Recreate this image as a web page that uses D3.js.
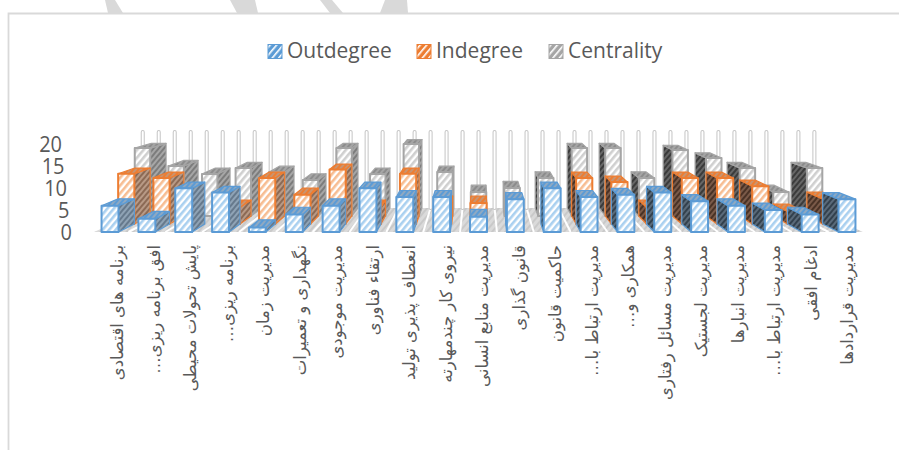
<!DOCTYPE html>
<html>
<head>
<meta charset="utf-8">
<style>
  html, body { margin: 0; padding: 0; background: #fff; }
  svg { display: block; }
  .legend text { font-family: "Open Sans", sans-serif; font-size: 21px; fill: #595959; }
  .ytick { font-family: "Open Sans", sans-serif; font-size: 20px; fill: #595959; }
  .cat { font-family: "DejaVu Sans", sans-serif; font-size: 16.5px; fill: #595959; direction: rtl; }
</style>
<script src="https://cdn.jsdelivr.net/npm/d3@7"></script>
</head>
<body>
<svg id="chart" width="899" height="450"></svg>
<script>
const categories = [
    "برنامه های اقتصادی", "افق برنامه ریزی…", "پایش تحولات محیطی", "برنامه ریزی…",
    "مدیریت زمان", "نگهداری و تعمیرات", "مدیریت موجودی", "ارتقاء فناوری",
    "انعطاف پذیری تولید", "نیروی کار چندمهارته", "مدیریت منابع انسانی", "قانون گذاری",
    "حاکمیت قانون", "مدیریت ارتباط با…", "همکاری و…", "مدیریت مسائل رفتاری",
    "مدیریت لجستیک", "مدیریت انبارها", "مدیریت ارتباط با…", "ادغام افقی", "مدیریت قراردادها"
];
const outdegree = [6, 3, 10, 9, 1, 4, 6, 10, 8, 8, 3.5, 7.5, 10, 8, 8.5, 9, 7, 6, 5, 4, 7.5];
const indegree = [12, 11, 0, 4, 11, 7, 13, 4, 12, 5, 5, 0, 0, 11, 10, 4, 11, 11, 9, 3, 6];
const centrality = [17, 12.5, 10.5, 12, 11, 9, 17, 10.5, 18, 11, 6, 7, 9.5, 17, 17, 9.5, 16.5, 14.5, 12, 6, 12];
const yTicks = [0, 5, 10, 15, 20];
const seriesNames = ["Outdegree", "Indegree", "Centrality"];
const seriesColors = ["#5b9bd5", "#ed7d31", "#a5a5a5"];

const svg = d3.select("#chart");
const VANISH = {x: 479, y: 50};
const BAR_WIDTH = 0.46;

// front plane scales, depth is turned into a shrink factor towards the vanishing point
const xScale = d3.scaleBand().domain(d3.range(categories.length)).range([91.6, 865.4]);
const yScale = d3.scaleLinear().domain([0, 20]).range([232, 144.4]);
const depth = d3.scaleLinear().domain([0, 3]).range([1, 0.868]);
const labelX = d3.scalePoint().domain(d3.range(categories.length)).range([117, 847]);
const tickRight = d3.scaleLinear().domain([0, 20]).range([72, 62]);

function project(x, value, z) {
    const s = depth(z);
    return [VANISH.x + (x - VANISH.x) * s, VANISH.y + (yScale(value) - VANISH.y) * s];
}

function hatch(id, bg, stripe, size, stripeWidth) {
    const p = defs.append("pattern")
        .attr("id", id)
        .attr("patternUnits", "userSpaceOnUse")
        .attr("width", size)
        .attr("height", size)
        .attr("patternTransform", "rotate(40)");
    p.append("rect").attr("width", size).attr("height", size).attr("fill", bg);
    p.append("rect").attr("width", stripeWidth).attr("height", size).attr("fill", stripe);
}

const defs = svg.append("defs");
const frontStripe = ["#a9d0f0", "#f7bd92", "#cfcfcf"];
const leftSide = [["#8fa3b5", "#66798c"], ["#b89a86", "#8c6a55"], ["#a6a6a6", "#7c7c7c"]];
const rightSide = [["#5a6b7a", "#33414d"], ["#7a5a48", "#4a3225"], ["#666", "#3a3a3a"]];
const topStripe = ["#8fa9c2", "#c9946f", "#8c8c8c"];
seriesNames.forEach((name, k) => {
    hatch(`front${k}`, "#fff", frontStripe[k], 5, 2.6);
    hatch(`left${k}`, leftSide[k][0], leftSide[k][1], 4, 2);
    hatch(`right${k}`, rightSide[k][0], rightSide[k][1], 4, 2);
    hatch(`top${k}`, seriesColors[k], topStripe[k], 4, 2);
    hatch(`legend${k}`, seriesColors[k], "#fff", 5, 1.6);
});
hatch("floor", "#dadada", "#c9c9c9", 5, 2);
defs.append("filter").attr("id", "soft")
    .append("feGaussianBlur").attr("stdDeviation", 0.45);

// page watermark behind the chart and the chart frame
const watermark = svg.append("g").attr("fill", "#d9d9d9");
[[[105, 0], [115, 0], [123, 13], [108, 13]],
 [[230, 0], [255, 0], [258, 13], [237, 13]],
 [[320, 0], [332, 0], [343, 13], [330, 13]],
 [[385, 0], [407, 0], [408, 13], [380, 13]]].forEach(pts => {
    watermark.append("polygon").attr("points", pts.join(" "));
});

svg.append("path")
    .attr("d", "M899,13.5H8.5V450")
    .attr("fill", "none")
    .attr("stroke", "#d9d9d9")
    .attr("stroke-width", 1.8);

// legend
const legendX = [268, 417, 549];
const legend = svg.append("g").attr("class", "legend");
seriesNames.forEach((name, k) => {
    legend.append("rect")
        .attr("x", legendX[k]).attr("y", 44.5)
        .attr("width", 14).attr("height", 14)
        .attr("fill", `url(#legend${k})`)
        .attr("stroke", seriesColors[k]);
    legend.append("text")
        .attr("x", legendX[k] + 19).attr("y", 58)
        .text(name);
});

// y tick labels, a bit taller than the font draws them
svg.selectAll(".ytick").data(yTicks).join("text")
    .attr("class", "ytick")
    .attr("text-anchor", "end")
    .attr("transform", d => `translate(${tickRight(d)}, ${yScale(d) + 8}) scale(1, 1.08)`)
    .text(d => d);

// floor
const leftEdge = xScale.range()[0];
const rightEdge = xScale.range()[1];
svg.append("polygon")
    .attr("points", [project(leftEdge, 0, 0), project(rightEdge, 0, 0), project(rightEdge, 0, 3), project(leftEdge, 0, 3)].join(" "))
    .attr("fill", "url(#floor)");

// floor depth lines and wall tubes, one at each band edge and band centre
const halfStep = xScale.step() / 2;
const wallX = d3.range(categories.length * 2 + 1).map(i => leftEdge + i * halfStep);
const wall = svg.append("g");
wallX.forEach((x, i) => {
    if (i % 2 === 0) {
        const a = project(x, 0, 0);
        const b = project(x, 0, 3);
        wall.append("line")
            .attr("x1", a[0]).attr("y1", a[1]).attr("x2", b[0]).attr("y2", b[1])
            .attr("stroke", "#fff").attr("stroke-width", 2);
    }
    const bottom = project(x, 0, 3);
    const top = project(x, 20, 3);
    wall.append("line")
        .attr("x1", bottom[0]).attr("y1", bottom[1]).attr("x2", top[0]).attr("y2", top[1])
        .attr("stroke", "#c4c4c4").attr("stroke-width", 4).attr("stroke-linecap", "round");
    wall.append("line")
        .attr("x1", bottom[0]).attr("y1", bottom[1]).attr("x2", top[0]).attr("y2", top[1])
        .attr("stroke", "#fff").attr("stroke-width", 2).attr("stroke-linecap", "round");
});

// columns: back row first, outer columns before the ones near the vanishing point
function drawBox(g, i, value, k, row) {
    if (value <= 0) return;
    const centre = xScale(i) + xScale.bandwidth() / 2;
    const half = xScale.bandwidth() * BAR_WIDTH / 2;
    const l = centre - half;
    const r = centre + half;
    const z0 = row;
    const z1 = row + 1;
    const leftOfCentre = centre < VANISH.x;
    const sideX = leftOfCentre ? r : l;
    const sideFill = leftOfCentre ? `url(#left${k})` : `url(#right${k})`;
    const color = seriesColors[k];
    const poly = (pts, fill, width) => g.append("polygon")
        .attr("points", pts.join(" "))
        .attr("fill", fill)
        .attr("stroke", color)
        .attr("stroke-width", width)
        .attr("stroke-linejoin", "round");

    poly([project(sideX, 0, z0), project(sideX, value, z0), project(sideX, value, z1), project(sideX, 0, z1)], sideFill, 1.2);
    poly([project(l, value, z0), project(r, value, z0), project(r, value, z1), project(l, value, z1)], `url(#top${k})`, 1.2);
    poly([project(l, 0, z0), project(r, 0, z0), project(r, value, z0), project(l, value, z0)], `url(#front${k})`, 2);
}

const rows = [outdegree, indegree, centrality];
const order = d3.range(categories.length)
    .sort((a, b) => Math.abs(xScale(b) - VANISH.x) - Math.abs(xScale(a) - VANISH.x));
const bars = svg.append("g").attr("filter", "url(#soft)");
[2, 1, 0].forEach(row => {
    order.forEach(i => drawBox(bars, i, rows[row][i], row, row));
});

// category labels, rotated to read downwards
svg.selectAll(".cat").data(categories).join("text")
    .attr("class", "cat")
    .attr("text-anchor", "start")
    .attr("transform", (d, i) => `translate(${labelX(i) + 6}, 245) rotate(-90)`)
    .text(d => d);
</script>
</body>
</html>
